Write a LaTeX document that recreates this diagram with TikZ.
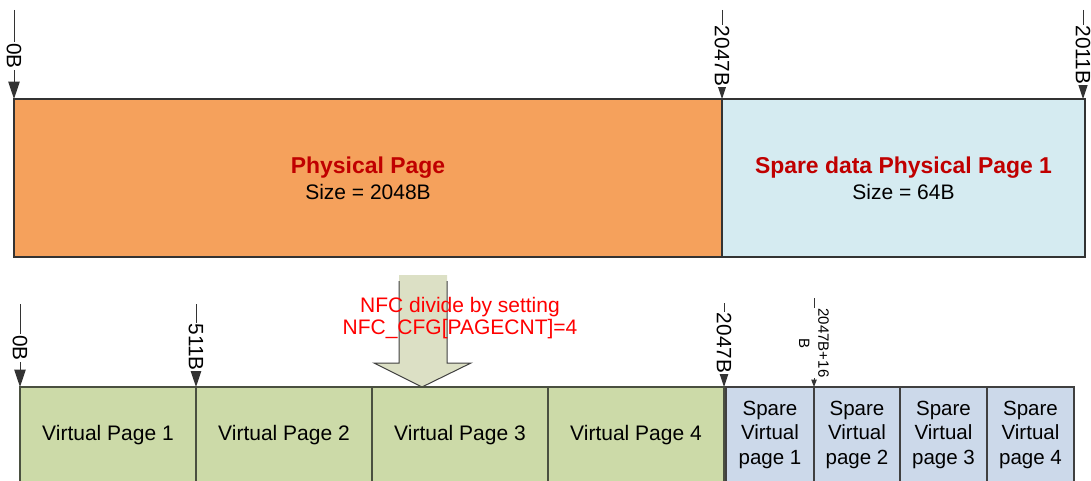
\documentclass[tikz,border=0pt]{standalone}
\usepackage{fontspec}
\setmainfont{Liberation Sans}
\usetikzlibrary{arrows.meta}

\definecolor{physfill}{HTML}{F5A15C}
\definecolor{sparefill}{HTML}{D5EBF1}
\definecolor{vpfill}{HTML}{CCDAA8}
\definecolor{svpfill}{HTML}{CCD9EA}
\definecolor{titlered}{HTML}{C00000}
\definecolor{arrowfill}{HTML}{DCE0C5}
\definecolor{vpline}{HTML}{4A5040}

\newcommand\pagetitle[1]{{\fontsize{17.2}{19.5}\selectfont\bfseries\color{titlered}#1}}
% three stacked lines, lowered a little inside their box
\newcommand\stackthree[3]{\raisebox{-4.2pt}{\begin{tabular}{@{}c@{}}#1\\#2\\#3\end{tabular}}}

\begin{document}
\begin{tikzpicture}[x=0.75pt,y=-0.75pt,
  pagebox/.style={draw=black!80, line width=0.8pt, inner sep=0pt, outer sep=0pt,
    anchor=north west, align=center, font=\fontsize{15.75}{19.5}\selectfont},
  vpbox/.style={pagebox, fill=vpfill, draw=vpline, minimum width=176*0.75pt,
    minimum height=96*0.75pt},
  svpbox/.style={draw=black!75, line width=0.8pt, inner sep=0pt, outer sep=0pt,
    anchor=north west, fill=svpfill, minimum height=96*0.75pt,
    font=\fontsize{15.4}{18.6}\selectfont},
  marker/.style={draw=black!80, line width=0.75pt,
    -{Triangle[length=13pt,width=8.5pt]}},
  smallmarker/.style={draw=black!80, line width=0.75pt,
    -{Triangle[length=5.5pt,width=4pt]}},
  mlabel/.style={rotate=-90, fill=white, inner xsep=0.6pt, inner ysep=1pt,
    font=\fontsize{15.6}{18}\selectfont},
  note/.style={text=red, align=center, font=\fontsize{15.75}{16.5}\selectfont}
]
\useasboundingbox (0,0) rectangle (1091,481);
\clip (0,0) rectangle (1091,481);

% ---- physical page row ----
\node[pagebox, fill=physfill, minimum width=708*0.75pt, minimum height=158*0.75pt]
  (phys) at (14,99) {\pagetitle{Physical Page}\\Size = 2048B};
\node[pagebox, fill=sparefill, minimum width=363*0.75pt, minimum height=158*0.75pt]
  (spare) at (722,99) {\pagetitle{Spare data Physical Page 1}\\Size = 64B};

% offsets above the physical page
\coordinate (t0) at (14,10);
\coordinate (t2047) at (722,10);
\coordinate (t2011) at (1083,10);
\draw[marker] (t0) -- (phys.north west);
\draw[marker] (t2047) -- (phys.north east);
\draw[marker] (t2011) -- (spare.north east -| t2011);
\node[mlabel] (l0) at (14,56) {0B};
\node[mlabel] (l2047) at (722,56) {2047B};
\node[mlabel] (l2011) at (1083,55) {2011B};

% ---- division arrow ----
\path[fill=arrowfill] (399,275) -- (447,275) -- (447,363) -- (471,363) -- (422,387)
  -- (374,363) -- (399,363) -- cycle;
\draw[black!75, line width=0.75pt, line join=miter]
  (399,281) -- (399,363) -- (374,363) -- (422,387) -- (471,363) -- (447,363) -- (447,281);

% ---- virtual page row ----
\node[vpbox] (vp1) at (20,387) {Virtual Page 1};
\node[vpbox] (vp2) at (196,387) {Virtual Page 2};
\node[vpbox] (vp3) at (372,387) {Virtual Page 3};
\node[vpbox] (vp4) at (548,387) {Virtual Page 4};
\node[svpbox, minimum width=88*0.75pt] (svp1) at (726,387) {\stackthree{Spare}{Virtual}{page 1}};
\node[svpbox, minimum width=86*0.75pt] (svp2) at (814,387) {\stackthree{Spare}{Virtual}{page 2}};
\node[svpbox, minimum width=87*0.75pt] (svp3) at (900,387) {\stackthree{Spare}{Virtual}{page 3}};
\node[svpbox, minimum width=87*0.75pt] (svp4) at (987,387) {\stackthree{Spare}{Virtual}{page 4}};

\node[note] (div) at (460,318) {NFC divide by setting\\NFC\_CFG[PAGECNT]=4};

% offsets above the virtual pages
\coordinate (b0) at (20,304);
\coordinate (b511) at (196,304);
\coordinate (b2047) at (724,303);
\coordinate (b2063) at (814,298);
\draw[marker] (b0) -- (vp1.north west);
\draw[marker] (b511) -- (vp2.north west);
\draw[marker] (b2047) -- (vp4.north east);
\draw[smallmarker] (b2063) -- (svp2.north west);
\node[mlabel] (m0) at (20,348) {0B};
\node[mlabel] (m511) at (196,347) {511B};
\node[mlabel] (m2047) at (724,343) {2047B};
\node[mlabel, align=center, inner xsep=0.3pt, font=\fontsize{11.25}{14.5}\selectfont]
  (m2063) at (814,343) {2047B+16\\B};
\end{tikzpicture}
\end{document}
